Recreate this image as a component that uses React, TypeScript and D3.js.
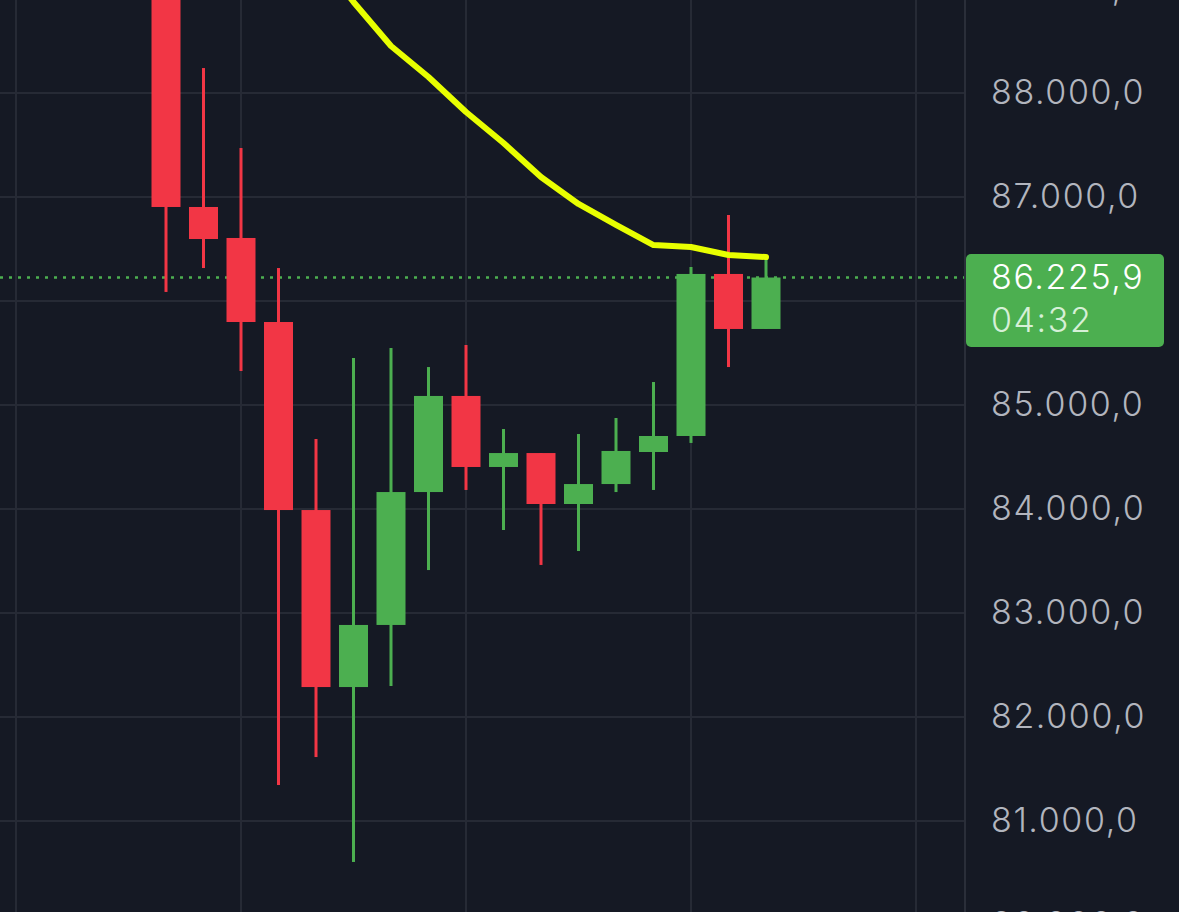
import React from "react";
import * as d3 from "d3";

const W = 1179;
const H = 912;

const opens = [89600, 86904, 86606, 85798, 83990, 82288, 82885, 84163, 85087, 84404, 84538, 84048, 84240, 84548, 84702, 86260, 85731];
const closes = [86904, 86596, 85798, 83990, 82288, 82885, 84163, 85087, 84404, 84538, 84048, 84240, 84558, 84702, 86260, 85731, 86225.9];
const highs = [90200, 88240, 87471, 86317, 84673, 85452, 85548, 85365, 85577, 84769, 84538, 84721, 84875, 85221, 86327, 86827, 86423];
const lows = [86087, 86317, 85327, 81346, 81615, 80606, 82298, 83413, 84183, 83798, 83462, 83596, 84163, 84183, 84635, 85365, 85731];

const maIndex = [4, 5, 6, 7, 8, 9, 10, 11, 12, 13, 14, 15, 16];
const maValues = [89337, 88875, 88452, 88154, 87817, 87519, 87192, 86933, 86731, 86538, 86519, 86442, 86423];

const gridTicks = [80000, 81000, 82000, 83000, 84000, 85000, 86000, 87000, 88000, 89000];
const labelTicks = [80000, 81000, 82000, 83000, 84000, 85000, 87000, 88000, 89000];
const timeGridIdx = [-4, 2, 8, 14, 20];

const lastPrice = "86.225,9";
const countdown = "04:32";

const fmt = (v: number) => {
  const s = d3.format(",.1f")(v);
  return s.replace(/,/g, "#").replace(".", ",").replace(/#/g, ".");
};

export default function App() {
  const plotRight = 965;
  const y = d3.scaleLinear().domain([81000, 88000]).range([821, 93]);
  const x = d3.scaleLinear().domain([0, 16]).range([166, 766]);
  const bodyW = 29;
  const wickW = 3;
  const red = "#f23645";
  const green = "#4caf50";
  const font = "Inter, 'Noto Sans', sans-serif";

  const line = d3
    .line<number>()
    .x((_, i) => x(maIndex[i]))
    .y((d) => y(d))
    .curve(d3.curveLinear);

  const last = closes[closes.length - 1];

  return (
    <svg
      width={W}
      height={H}
      style={{ position: "fixed", left: 0, top: 0, display: "block" }}
    >
      <defs>
        <clipPath id="plot">
          <rect x={0} y={0} width={plotRight} height={H} />
        </clipPath>
      </defs>
      <rect x={0} y={0} width={W} height={H} fill="#151924" />
      <g clipPath="url(#plot)">
        {gridTicks.map((t) => (
          <line key={t} x1={0} x2={plotRight} y1={y(t)} y2={y(t)} stroke="#262a35" strokeWidth={2} />
        ))}
        {timeGridIdx.map((i) => (
          <line key={i} x1={x(i)} x2={x(i)} y1={0} y2={H} stroke="#262a35" strokeWidth={2} />
        ))}
        <line
          x1={0}
          x2={plotRight}
          y1={y(last)}
          y2={y(last)}
          stroke={green}
          strokeWidth={2.5}
          strokeDasharray="3 6"
        />
        {opens.map((o, i) => {
          const c = closes[i];
          const col = c >= o ? green : red;
          const top = y(Math.max(o, c));
          const bot = y(Math.min(o, c));
          return (
            <g key={i}>
              <rect x={x(i) - wickW / 2} y={y(highs[i])} width={wickW} height={y(lows[i]) - y(highs[i])} fill={col} />
              <rect x={x(i) - bodyW / 2} y={top} width={bodyW} height={Math.max(1, bot - top)} fill={col} />
            </g>
          );
        })}
        <path d={line(maValues) || ""} fill="none" stroke="#e8ff00" strokeWidth={6} strokeLinejoin="round" strokeLinecap="round" />
      </g>
      <line x1={plotRight} x2={plotRight} y1={0} y2={H} stroke="#2a2e39" strokeWidth={2} />
      {labelTicks.map((t) => (
        <text
          key={t}
          x={991}
          y={y(t) + 11}
          fill="#b2b5be"
          fontSize={34}
          fontWeight={300}
          letterSpacing={1.6}
          fontFamily={font}
        >
          {fmt(t)}
        </text>
      ))}
      <rect x={966} y={254} width={198} height={93} rx={5} fill={green} />
      <text x={991} y={289} fill="#ffffff" fontSize={34} fontWeight={300} letterSpacing={1.6} fontFamily={font}>
        {lastPrice}
      </text>
      <text x={991} y={332} fill="#d6f0d7" fontSize={34} fontWeight={300} letterSpacing={1.6} fontFamily={font}>
        {countdown}
      </text>
    </svg>
  );
}
